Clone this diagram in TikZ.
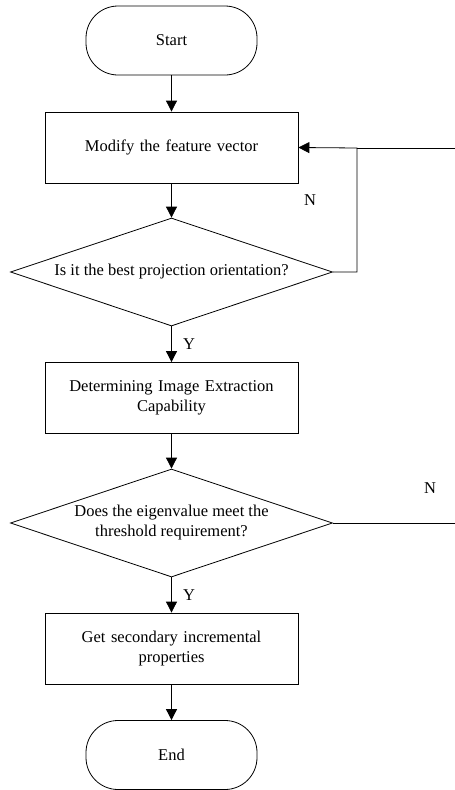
\documentclass[tikz,border=0pt]{standalone}
\usepackage{fontspec}
\setmainfont{Liberation Serif}
\usetikzlibrary{positioning,shapes.geometric,arrows.meta}
\begin{document}
\begin{tikzpicture}[x=1pt,y=1pt]
	\tikzstyle{term} =[draw, line width=0.8pt, minimum width=171pt, minimum height=69pt, rounded corners=32pt, font=\fontsize{16.5}{20}\selectfont];
	\tikzstyle{block} =[draw, line width=0.8pt, text width=240pt, minimum width=253pt, minimum height=71pt, align=center, font=\fontsize{16.5}{20}\selectfont];
	\tikzstyle{decision} =[draw, line width=0.8pt, diamond, aspect=3, minimum width=322pt, minimum height=108pt, inner sep=0pt, align=center, font=\fontsize{16.5}{20}\selectfont];
	\tikzstyle{line} =[-{Triangle[length=11pt,width=11pt]}, line width=0.8pt];
	\tikzstyle{tag} =[font=\fontsize{16.5}{20}\selectfont];
	\useasboundingbox (0,0) rectangle (455,-790);

	\node[term] (start) at (171.5,-40.5) {Start};
	\node[block, below of = start, node distance=107pt] (modify) {Modify the feature vector};
	\node[decision, below of = modify, node distance=124.5pt] (best) {Is it the best projection orientation?};
	\node[block, below of = best, node distance=126pt] (capab) {Determining Image Extraction\\Capability};
	\node[decision, below of = capab, node distance=125pt] (thresh) {Does the eigenvalue meet the\\threshold requirement?};
	\node[block, below of = thresh, node distance=125.5pt] (props) {Get secondary incremental\\properties};
	\node[term, below of = props, node distance=106.5pt] (end) {End};

	\coordinate (inA) at (455,-148);
	\coordinate (bend) at (357,-148);
	\coordinate (outB) at (thresh.east -| inA);
	\node[tag] (nA) at (310,-200) {N};
	\node[tag] (nB) at (430,-488) {N};

	\draw[line] (start) -- (modify);
	\draw[line] (modify) -- (best);
	\draw[line] (best) -- node[tag, right=8pt] {Y} (capab);
	\draw[line] (capab) -- (thresh);
	\draw[line] (thresh) -- node[tag, right=8pt] {Y} (props);
	\draw[line] (props) -- (end);
	\draw[line width=0.8pt] (inA) -- (bend);
	\draw[line] (best.east) -| (bend) -- (modify.east);
	\draw[line width=0.8pt] (thresh.east) -- (outB);
\end{tikzpicture}
\end{document}
